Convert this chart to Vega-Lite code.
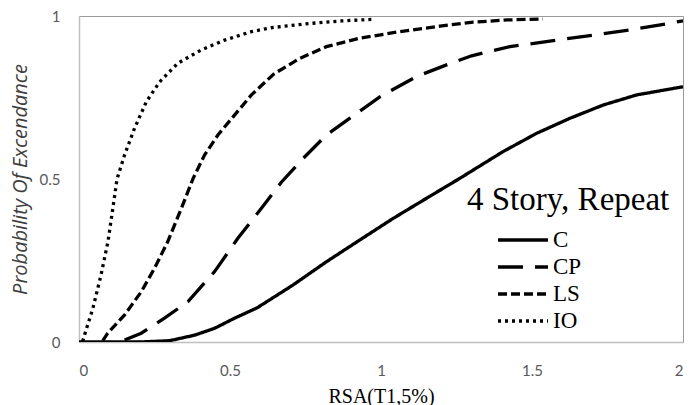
{
  "$schema": "https://vega.github.io/schema/vega-lite/v6.json",
  "autosize": "none",
  "width": 604,
  "height": 326,
  "padding": {"left": 79, "top": 16, "right": 9, "bottom": 63},
  "background": "white",
  "title": {"text": "4 Story, Repeat", "font": "Liberation Serif", "fontSize": 33, "fontWeight": "normal", "color": "black", "anchor": "start", "orient": "top", "frame": "group", "offset": 0, "dx": 388, "dy": 208},
  "config": {
    "font": "Liberation Serif",
    "view": {"stroke": "#9a9a9a", "strokeWidth": 1},
    "axis": {"grid": false, "ticks": false, "domainColor": "#bfbfbf", "domainWidth": 1.5, "labelColor": "#595959", "labelFont": "Lato", "labelFontSize": 15, "format": "~g"},
    "legend": {"labelFont": "Liberation Serif"}
  },
  "data": {"values": [
    {"s": "C", "x": 0, "y": 0},
    {"s": "C", "x": 0.2, "y": 0},
    {"s": "C", "x": 0.3, "y": 0.004},
    {"s": "C", "x": 0.383, "y": 0.021},
    {"s": "C", "x": 0.449, "y": 0.042},
    {"s": "C", "x": 0.515, "y": 0.073},
    {"s": "C", "x": 0.59, "y": 0.105},
    {"s": "C", "x": 0.648, "y": 0.139},
    {"s": "C", "x": 0.709, "y": 0.175},
    {"s": "C", "x": 0.819, "y": 0.246},
    {"s": "C", "x": 0.93, "y": 0.313},
    {"s": "C", "x": 1.04, "y": 0.379},
    {"s": "C", "x": 1.151, "y": 0.441},
    {"s": "C", "x": 1.261, "y": 0.502},
    {"s": "C", "x": 1.404, "y": 0.584},
    {"s": "C", "x": 1.515, "y": 0.64},
    {"s": "C", "x": 1.625, "y": 0.686},
    {"s": "C", "x": 1.736, "y": 0.727},
    {"s": "C", "x": 1.847, "y": 0.758},
    {"s": "C", "x": 2.0, "y": 0.783},
    {"s": "CP", "x": 0.151, "y": 0.006},
    {"s": "CP", "x": 0.206, "y": 0.027},
    {"s": "CP", "x": 0.283, "y": 0.073},
    {"s": "CP", "x": 0.361, "y": 0.124},
    {"s": "CP", "x": 0.449, "y": 0.216},
    {"s": "CP", "x": 0.526, "y": 0.318},
    {"s": "CP", "x": 0.604, "y": 0.41},
    {"s": "CP", "x": 0.67, "y": 0.49},
    {"s": "CP", "x": 0.742, "y": 0.563},
    {"s": "CP", "x": 0.819, "y": 0.635},
    {"s": "CP", "x": 0.896, "y": 0.686},
    {"s": "CP", "x": 0.996, "y": 0.752},
    {"s": "CP", "x": 1.117, "y": 0.814},
    {"s": "CP", "x": 1.217, "y": 0.85},
    {"s": "CP", "x": 1.3, "y": 0.878},
    {"s": "CP", "x": 1.427, "y": 0.906},
    {"s": "CP", "x": 1.559, "y": 0.923},
    {"s": "CP", "x": 1.692, "y": 0.94},
    {"s": "CP", "x": 1.824, "y": 0.957},
    {"s": "CP", "x": 1.957, "y": 0.978},
    {"s": "CP", "x": 2.0, "y": 0.985},
    {"s": "LS", "x": 0.079, "y": 0.004},
    {"s": "LS", "x": 0.095, "y": 0.027},
    {"s": "LS", "x": 0.151, "y": 0.083},
    {"s": "LS", "x": 0.206, "y": 0.154},
    {"s": "LS", "x": 0.25, "y": 0.226},
    {"s": "LS", "x": 0.294, "y": 0.308},
    {"s": "LS", "x": 0.339, "y": 0.41},
    {"s": "LS", "x": 0.378, "y": 0.502},
    {"s": "LS", "x": 0.416, "y": 0.574},
    {"s": "LS", "x": 0.46, "y": 0.635},
    {"s": "LS", "x": 0.515, "y": 0.696},
    {"s": "LS", "x": 0.571, "y": 0.758},
    {"s": "LS", "x": 0.645, "y": 0.822},
    {"s": "LS", "x": 0.731, "y": 0.87},
    {"s": "LS", "x": 0.819, "y": 0.906},
    {"s": "LS", "x": 0.93, "y": 0.932},
    {"s": "LS", "x": 1.062, "y": 0.952},
    {"s": "LS", "x": 1.195, "y": 0.969},
    {"s": "LS", "x": 1.305, "y": 0.981},
    {"s": "LS", "x": 1.42, "y": 0.988},
    {"s": "LS", "x": 1.536, "y": 0.991},
    {"s": "IO", "x": 0.012, "y": 0.002},
    {"s": "IO", "x": 0.018, "y": 0.021},
    {"s": "IO", "x": 0.046, "y": 0.103},
    {"s": "IO", "x": 0.073, "y": 0.206},
    {"s": "IO", "x": 0.096, "y": 0.308},
    {"s": "IO", "x": 0.112, "y": 0.41},
    {"s": "IO", "x": 0.126, "y": 0.5},
    {"s": "IO", "x": 0.151, "y": 0.574},
    {"s": "IO", "x": 0.184, "y": 0.656},
    {"s": "IO", "x": 0.223, "y": 0.737},
    {"s": "IO", "x": 0.267, "y": 0.798},
    {"s": "IO", "x": 0.327, "y": 0.855},
    {"s": "IO", "x": 0.405, "y": 0.896},
    {"s": "IO", "x": 0.482, "y": 0.926},
    {"s": "IO", "x": 0.571, "y": 0.952},
    {"s": "IO", "x": 0.637, "y": 0.964},
    {"s": "IO", "x": 0.75, "y": 0.976},
    {"s": "IO", "x": 0.87, "y": 0.985},
    {"s": "IO", "x": 0.98, "y": 0.99}
  ]},
  "mark": {"type": "line", "color": "black", "strokeWidth": 3.3, "strokeCap": "butt", "clip": true},
  "encoding": {
    "x": {"field": "x", "type": "quantitative", "scale": {"domain": [0, 2], "nice": false},
      "axis": {"values": [0, 0.5, 1, 1.5, 2], "labelPadding": 21, "title": "RSA(T1,5%)", "titleFont": "Liberation Serif", "titleFontSize": 20, "titleFontWeight": "normal", "titleColor": "black", "titlePadding": 8}},
    "y": {"field": "y", "type": "quantitative", "scale": {"domain": [0, 1], "nice": false},
      "axis": {"values": [0, 0.5, 1], "labelPadding": 19, "title": "Probability Of Excendance", "titleFont": "Open Sans", "titleFontStyle": "italic", "titleFontSize": 20, "titleFontWeight": "normal", "titleColor": "#404040", "titlePadding": 9}},
    "strokeDash": {"field": "s", "type": "nominal",
      "scale": {"domain": ["C", "CP", "LS", "IO"], "range": [[1, 0], [25, 12], [9, 4], [3, 4]]},
      "legend": {"orient": "none", "legendX": 388, "legendY": 212, "title": null,
        "labelFont": "Liberation Serif", "labelFontSize": 23, "labelColor": "black", "labelOffset": 18,
        "symbolType": "M-2.5,0H2.5", "symbolSize": 400, "symbolStrokeWidth": 3.3, "symbolStrokeColor": "black", "symbolFillColor": "transparent", "symbolOffset": 44, "rowPadding": 3}}
  }
}
